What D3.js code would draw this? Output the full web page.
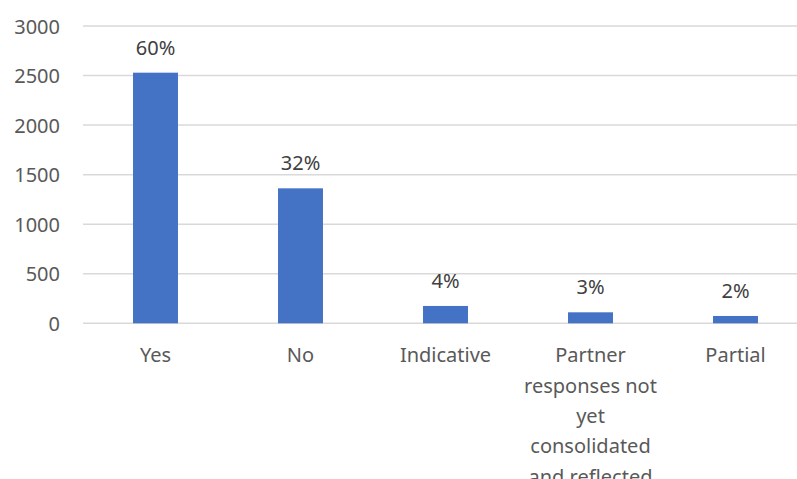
<!DOCTYPE html>
<html><head><meta charset="utf-8">
<script src="https://cdn.jsdelivr.net/npm/d3@7"></script>
<style>body{margin:0;background:#fff;}svg{display:block;}</style>
</head><body>
<svg id="chart" width="797" height="479"></svg>
<script>
const categories = ["Yes", "No", "Indicative", "Partner responses not yet consolidated and reflected", "Partial"];
const values = [2529, 1362, 175, 111, 74];
const percentLabels = ["60%", "32%", "4%", "3%", "2%"];
const yTicks = [0, 500, 1000, 1500, 2000, 2500, 3000];

const svg = d3.select("#chart");
const font = "'Noto Sans', sans-serif";
const fs = 20;
const x = d3.scaleBand().domain(categories).range([83, 808]).paddingInner(0.69).paddingOuter(0.345);
const y = d3.scaleLinear().domain([0, 3000]).range([323.3, 26]);

// gridlines
svg.append("g").selectAll("line").data(yTicks).join("line")
  .attr("x1", 83).attr("x2", 808)
  .attr("y1", d => y(d)).attr("y2", d => y(d))
  .attr("stroke", "#d9d9d9").attr("stroke-width", 1.5);

// y axis labels
const yAxis = d3.axisLeft(y).tickValues(yTicks).tickSize(0).tickPadding(0).tickFormat(d3.format("d"));
const yg = svg.append("g").attr("transform", "translate(60,0)").call(yAxis);
yg.select(".domain").remove();
yg.selectAll("text").attr("font-family", font).attr("font-size", fs).attr("fill", "#595959").attr("dy", "0.35em");

// bars
svg.append("g").selectAll("rect").data(values).join("rect")
  .attr("x", (d, i) => x(categories[i]))
  .attr("width", x.bandwidth())
  .attr("y", d => y(d))
  .attr("height", d => y(0) - y(d))
  .attr("fill", "#4472c4");

// value labels
svg.append("g").selectAll("text").data(values).join("text")
  .attr("x", (d, i) => x(categories[i]) + x.bandwidth() / 2)
  .attr("y", d => y(d) - 18)
  .attr("text-anchor", "middle")
  .attr("font-family", font).attr("font-size", fs).attr("fill", "#404040")
  .text((d, i) => percentLabels[i]);

// x axis labels with wrapping
const xAxis = d3.axisBottom(x).tickSize(0).tickPadding(0);
const xg = svg.append("g").attr("transform", "translate(0,323.3)").call(xAxis);
xg.select(".domain").remove();
xg.selectAll("text").attr("font-family", font).attr("font-size", fs).attr("fill", "#595959")
  .attr("y", 0).attr("dy", null)
  .each(function(d) {
    const t = d3.select(this);
    const words = d.split(" ");
    t.text(null);
    let lines = [], line = [];
    const probe = t.append("tspan");
    words.forEach(w => {
      const test = line.concat(w).join(" ");
      probe.text(test);
      if (probe.node().getComputedTextLength() > 142 && line.length) {
        lines.push(line.join(" ")); line = [w];
      } else line.push(w);
    });
    lines.push(line.join(" "));
    probe.remove();
    lines.forEach((l, i) => {
      t.append("tspan").attr("x", 0).attr("y", 39 + i * 30.4).text(l);
    });
  });
</script>
</body></html>
